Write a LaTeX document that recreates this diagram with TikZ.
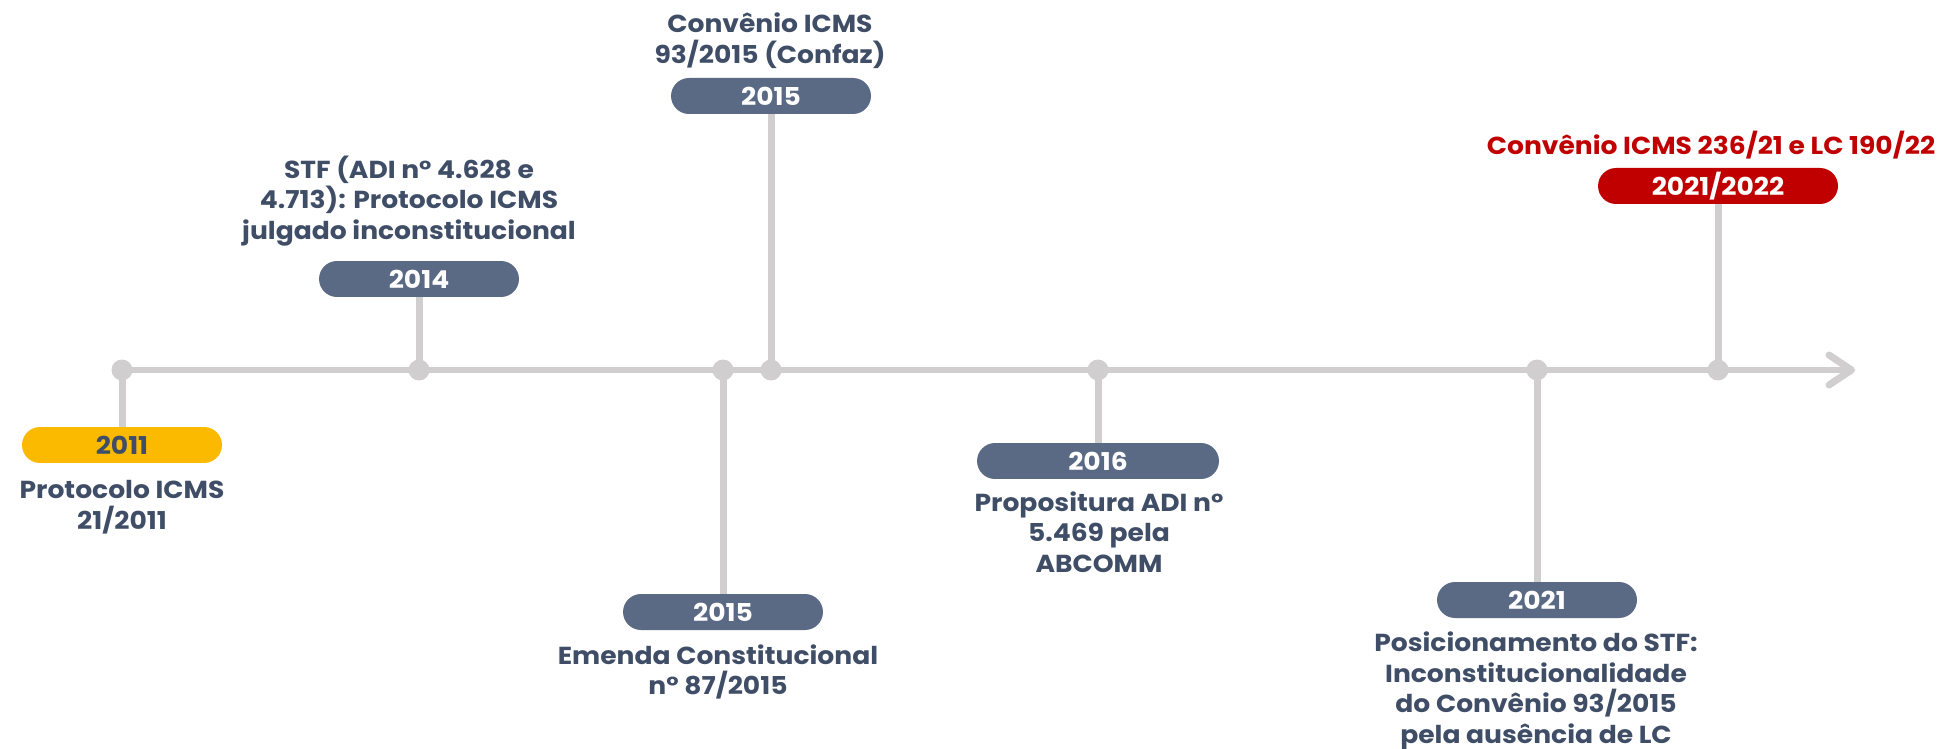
\documentclass[tikz,border=0pt]{standalone}
\usepackage{fontspec}
\setmainfont{Poppins}[FakeStretch=1.08]
\usetikzlibrary{arrows.meta}

\definecolor{linegray}{HTML}{D0CECF}
\definecolor{pillblue}{HTML}{5A6A85}
\definecolor{textblue}{HTML}{3F4E66}
\definecolor{gold}{HTML}{FBBA00}
\definecolor{darkred}{HTML}{C00000}

\begin{document}
\begin{tikzpicture}[x=0.02cm,y=-0.02cm,
    every node/.style={font=\bfseries\fontsize{14}{17.5}\selectfont},
    axis/.style={line width=0.14cm,draw=linegray},
    dot/.style={circle,fill=linegray,inner sep=0pt,minimum size=0.42cm},
    year/.style={rounded corners=0.36cm,fill=pillblue,text=white,
        minimum height=0.72cm,minimum width=4cm,inner sep=0pt},
    note/.style={text=textblue,align=center,inner sep=0pt}]
    \useasboundingbox (0,0) rectangle (1942,749);

    % points on the time line
    \node[dot] (d11) at (122,370) {};
    \node[dot] (d14) at (419,370) {};
    \node[dot] (d15a) at (723,370) {};
    \node[dot] (d15b) at (771,370) {};
    \node[dot] (d16) at (1098,370) {};
    \node[dot] (d21) at (1537,370) {};
    \node[dot] (d22) at (1718,370) {};
    \coordinate (tip) at (1855,370);
    \draw[axis,line cap=round,-{Straight Barb[length=0.45cm,width=0.6cm,round]}] (d11.center) -- (tip);

    % year labels
    \node[year,fill=gold,text=textblue] (y11) at (122,445) {2011};
    \node[year] (y14) at (419,279) {2014};
    \node[year] (y15b) at (771,96) {2015};
    \node[year] (y15a) at (723,612) {2015};
    \node[year,minimum width=4.84cm] (y16) at (1098,461) {2016};
    \node[year] (y21) at (1537,600) {2021};
    \node[year,fill=darkred,minimum width=4.8cm] (y22) at (1718,186) {2021/2022};

    \foreach \d/\y in {d11/y11,d14/y14,d15a/y15a,d15b/y15b,d16/y16,d21/y21,d22/y22}
        \draw[axis] (\d.center) -- (\y);

    % descriptions
    \node[note] (n11) at (122,507) {Protocolo ICMS\\21/2011};
    \node[note] (n14) at (409,201) {STF (ADI n° 4.628 e\\4.713): Protocolo ICMS\\julgado inconstitucional};
    \node[note] (n15b) at (770,41) {Convênio ICMS\\93/2015 (Confaz)};
    \node[note] (n15a) at (718,672) {Emenda Constitucional\\n° 87/2015};
    \node[note] (n16) at (1099,532) {Propositura ADI n°\\5.469 pela\\ABCOMM};
    \node[note] (n21) at (1536,691) {Posicionamento do STF:\\Inconstitucionalidade\\do Convênio 93/2015\\pela ausência de LC};
    \node[note,text=darkred] (n22) at (1711,145) {Convênio ICMS 236/21 e LC 190/22};
\end{tikzpicture}
\end{document}
